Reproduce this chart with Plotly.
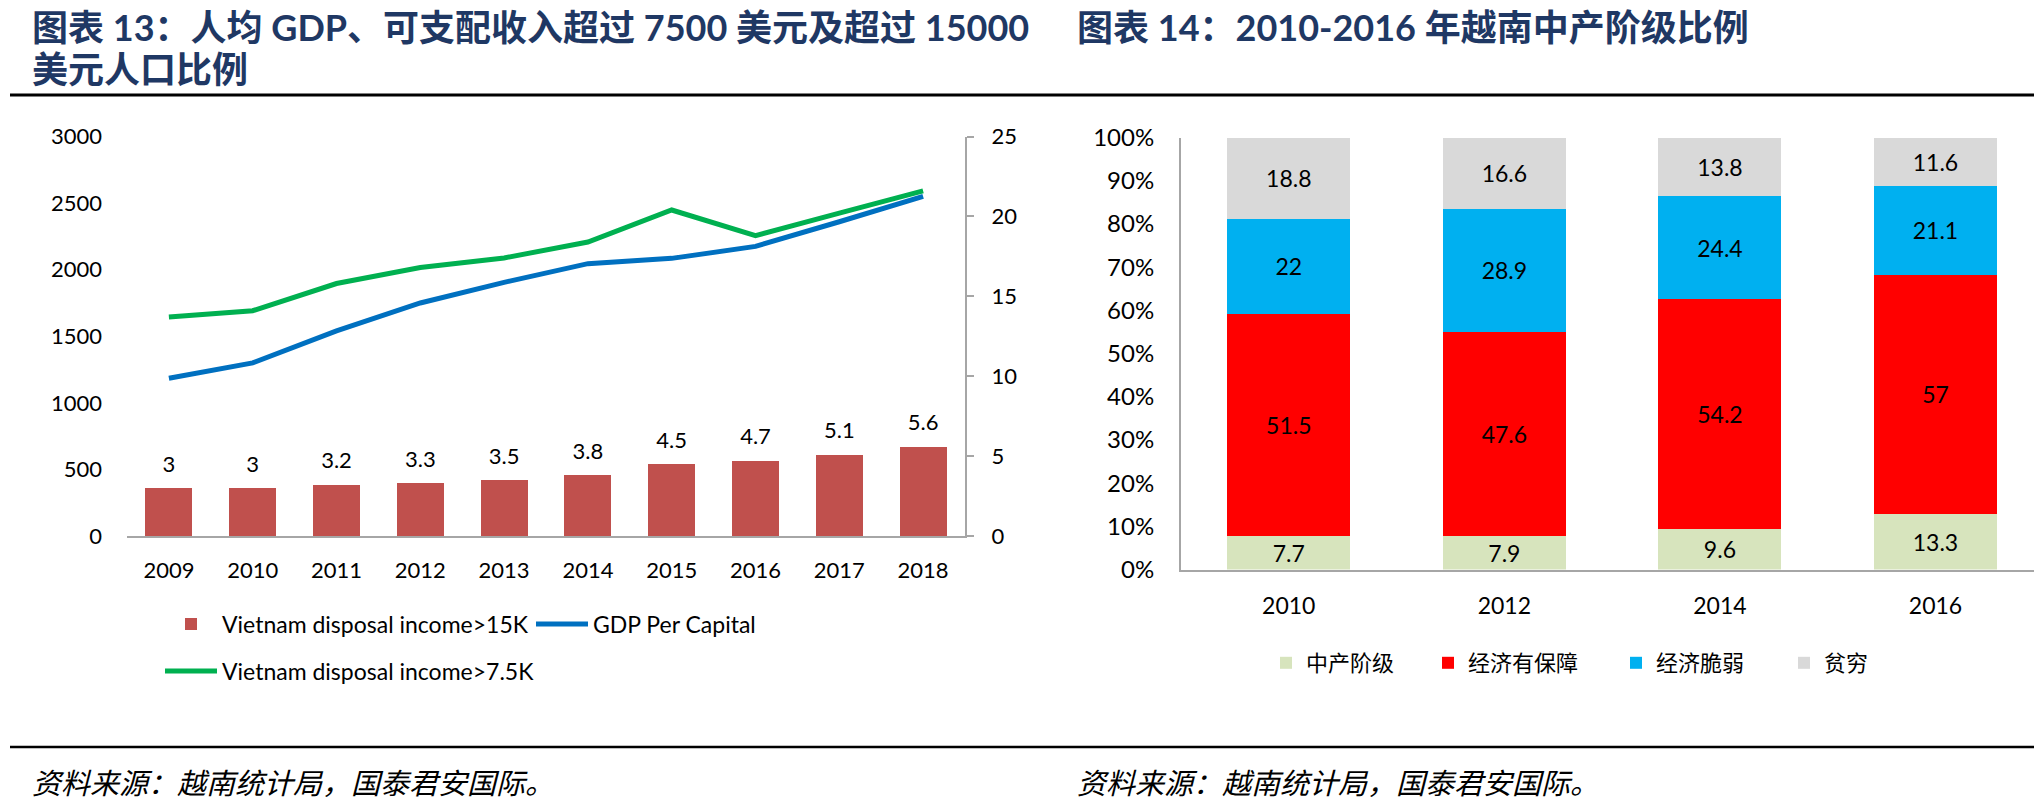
import plotly.graph_objects as go

W, H = 2034, 804

# ---------------- data: chart 13 ----------------
years = ["2009", "2010", "2011", "2012", "2013", "2014", "2015", "2016", "2017", "2018"]
share_15k = [3, 3, 3.2, 3.3, 3.5, 3.8, 4.5, 4.7, 5.1, 5.6]
gdp_per_capita = [1185, 1300, 1540, 1750, 1905, 2045, 2085, 2175, 2360, 2550]
share_7_5k = [13.7, 14.1, 15.8, 16.8, 17.4, 18.4, 20.4, 18.8, 20.2, 21.6]
left_ticks = [0, 500, 1000, 1500, 2000, 2500, 3000]
right_ticks = [0, 5, 10, 15, 20, 25]

# ---------------- data: chart 14 ----------------
class_years = ["2010", "2012", "2014", "2016"]
middle_class = [7.7, 7.9, 9.6, 13.3]
secure = [51.5, 47.6, 54.2, 57]
vulnerable = [22, 28.9, 24.4, 21.1]
poor = [18.8, 16.6, 13.8, 11.6]
class_names = ["中产阶级", "经济有保障", "经济脆弱", "贫穷"]

LATIN = "Lato, 'Noto Sans CJK SC', sans-serif"
CJK = "'Noto Sans CJK SC', sans-serif"
AXIS_GRAY = "#A6A6A6"


def px(x):
    return x / W


def py(y):
    return 1 - y / H


fig = go.Figure()

# ---------------- left chart ----------------
fig.add_trace(go.Bar(
    x=years, y=share_15k, xaxis="x", yaxis="y2", width=0.56,
    marker=dict(color="#C0504D", line=dict(width=0)),
    name="Vietnam disposal income>15K", legend="legend",
))
fig.add_trace(go.Scatter(
    x=years, y=gdp_per_capita, xaxis="x", yaxis="y", mode="lines",
    line=dict(color="#0070C0", width=5),
    name="GDP Per Capital", legend="legend2",
))
fig.add_trace(go.Scatter(
    x=years, y=share_7_5k, xaxis="x", yaxis="y2", mode="lines",
    line=dict(color="#00B050", width=5),
    name="Vietnam disposal income>7.5K", legend="legend3",
))
# value labels above the bars (invisible markers give the offset)
fig.add_trace(go.Scatter(
    x=years, y=share_15k, xaxis="x", yaxis="y2", mode="markers+text",
    marker=dict(size=16, opacity=0, color="#C0504D"),
    text=[f"{v:g}" for v in share_15k], textposition="top center",
    textfont=dict(family=LATIN, size=22, color="#000"),
    showlegend=False, hoverinfo="skip", cliponaxis=False,
))

# ---------------- right chart (100% stacked) ----------------
series = [middle_class, secure, vulnerable, poor]
colors = ["#D7E4BD", "#FF0000", "#00B0F0", "#D9D9D9"]
totals = [sum(vals) for vals in zip(*series)]
legend_keys = ["legend4", "legend5", "legend6", "legend7"]
for name, vals, col, lg in zip(class_names, series, colors, legend_keys):
    pct = [v / t * 100 for v, t in zip(vals, totals)]
    fig.add_trace(go.Bar(
        x=class_years, y=pct, xaxis="x2", yaxis="y3", width=0.57,
        marker=dict(color=col, line=dict(width=0)),
        text=[f"{v:g}" for v in vals], textposition="inside", insidetextanchor="middle",
        textangle=0, constraintext="none",
        textfont=dict(family=LATIN, size=23, color="#000"),
        name=name, legend=lg,
    ))

left_dom_y = [py(536), py(136.5)]
right_dom_y = [py(569.5), py(137.5)]


def leg(x, y, font, itemwidth=30):
    return dict(x=px(x), y=py(y), xanchor="left", yanchor="middle", orientation="h",
                bgcolor="rgba(0,0,0,0)", borderwidth=0, font=font, itemwidth=itemwidth,
                itemclick=False, itemdoubleclick=False)


lfont = dict(family=LATIN, size=23, color="#000")
cfont = dict(family=CJK, size=22, color="#000")

fig.update_layout(
    width=W, height=H, margin=dict(l=0, r=0, t=0, b=0, autoexpand=False),
    paper_bgcolor="white", plot_bgcolor="white",
    barmode="stack", hovermode=False, showlegend=True,
    font=dict(family=LATIN, size=22, color="#000"),
    xaxis=dict(domain=[px(127), px(965)], type="category", range=[-0.5, 9.5], anchor="y",
               showline=True, linecolor=AXIS_GRAY, linewidth=2, ticks="", showgrid=False,
               zeroline=False, automargin=False, ticklabelstandoff=14,
               tickfont=dict(size=22, color="#000")),
    yaxis=dict(domain=left_dom_y, range=[0, 3000], tickvals=left_ticks, anchor="x",
               showline=False, showgrid=False, zeroline=False, ticks="", automargin=False,
               ticklabelstandoff=24, tickfont=dict(size=22, color="#000")),
    yaxis2=dict(overlaying="y", side="right", range=[0, 25], tickvals=right_ticks, anchor="x",
                showline=True, linecolor=AXIS_GRAY, linewidth=2, ticks="outside", ticklen=7,
                tickwidth=2, tickcolor=AXIS_GRAY, showgrid=False, zeroline=False,
                automargin=False, ticklabelstandoff=13, tickfont=dict(size=22, color="#000")),
    xaxis2=dict(domain=[px(1181), 1], type="category", range=[-0.5, 3.457], anchor="y3",
                showline=True, linecolor=AXIS_GRAY, linewidth=2, ticks="", showgrid=False,
                zeroline=False, automargin=False, ticklabelstandoff=15,
                tickfont=dict(size=23, color="#000")),
    yaxis3=dict(domain=right_dom_y, range=[0, 100], dtick=10, ticksuffix="%", anchor="x2",
                showline=True, linecolor=AXIS_GRAY, linewidth=2, ticks="", showgrid=False,
                zeroline=False, automargin=False, ticklabelstandoff=20,
                tickfont=dict(size=24, color="#000")),
    legend=leg(160, 624, lfont, 52),
    legend2=leg(531, 624, lfont, 52),
    legend3=leg(160, 671, lfont, 52),
    legend4=leg(1266, 663, cfont),
    legend5=leg(1428, 663, cfont),
    legend6=leg(1616, 663, cfont),
    legend7=leg(1784, 663, cfont),
)

# titles
title_font = dict(family=LATIN, size=36, color="#1F3864")
fig.add_annotation(xref="paper", yref="paper", x=px(30), y=py(27), xanchor="left", yanchor="middle",
                   text="<b>图表 13：人均 GDP、可支配收入超过 7500 美元及超过 15000</b>",
                   showarrow=False, font=title_font)
fig.add_annotation(xref="paper", yref="paper", x=px(30), y=py(69), xanchor="left", yanchor="middle",
                   text="<b>美元人口比例</b>", showarrow=False, font=title_font)
fig.add_annotation(xref="paper", yref="paper", x=px(1075), y=py(27), xanchor="left", yanchor="middle",
                   text="<b>图表 14：2010-2016 年越南中产阶级比例</b>", showarrow=False, font=title_font)

# footers
foot_font = dict(family=CJK, size=29, color="#000")
for fx in (30, 1075):
    fig.add_annotation(xref="paper", yref="paper", x=px(fx), y=py(781), xanchor="left", yanchor="middle",
                       text="<i>资料来源：越南统计局，国泰君安国际。</i>", showarrow=False, font=foot_font)

# rules
fig.add_shape(type="line", xref="paper", yref="paper", x0=px(10), x1=1, y0=py(95), y1=py(95),
              line=dict(color="#000", width=3))
fig.add_shape(type="line", xref="paper", yref="paper", x0=px(10), x1=1, y0=py(747), y1=py(747),
              line=dict(color="#000", width=2.5))

fig.write_html(
    "out.html",
    config={"displayModeBar": False},
    post_script="document.body.style.margin='0px';document.body.style.overflow='hidden';",
)
